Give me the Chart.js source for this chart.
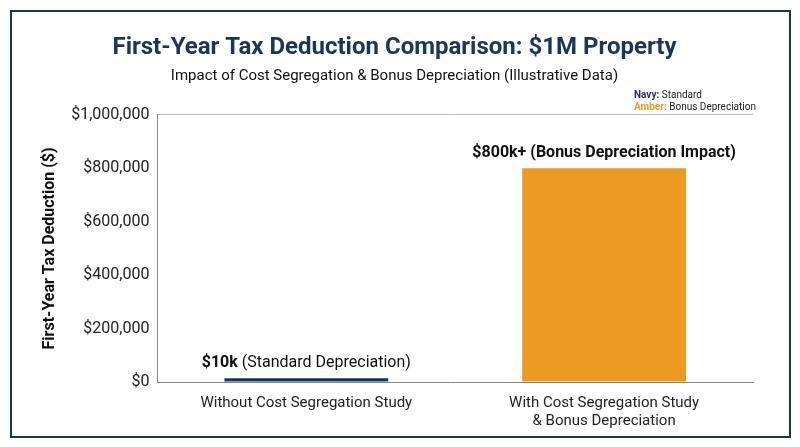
<!DOCTYPE html>
<html>
<head>
<meta charset="utf-8">
<script src="https://cdn.jsdelivr.net/npm/chart.js@4"></script>
<style>
  html, body { margin: 0; padding: 0; background: #fff; }
  #frame { position: absolute; left: 10px; top: 10px; width: 777px; height: 424px; border: 2px solid #1b365d; box-sizing: content-box; }
  canvas { display: block; }
</style>
</head>
<body>
<div id="frame"><canvas id="chart" width="777" height="424"></canvas></div>
<script>
const categories = [["Without Cost Segregation Study"], ["With Cost Segregation Study", "& Bonus Depreciation"]];
const deductions = [14000, 800000];
const barColors = ["#14335c", "#ec9a22"];
const labelBold = ["$10k", "$800k+ (Bonus Depreciation Impact)"];
const labelRest = [" (Standard Depreciation)", ""];

const F = "Roboto, 'Liberation Sans', sans-serif";

const topLabels = {
  id: 'topLabels',
  afterDatasetsDraw(chart) {
    const ctx = chart.ctx;
    const meta = chart.getDatasetMeta(0);
    ctx.save();
    ctx.textBaseline = 'bottom';
    meta.data.forEach((bar, i) => {
      ctx.font = "bold 16px " + F;
      const w1 = ctx.measureText(labelBold[i]).width;
      ctx.font = "16px " + F;
      const w2 = ctx.measureText(labelRest[i]).width;
      let x = bar.x - (w1 + w2) / 2;
      const y = bar.y - 7;
      ctx.fillStyle = '#111';
      ctx.font = "bold 16px " + F;
      ctx.fillText(labelBold[i], x, y);
      ctx.font = "16px " + F;
      ctx.fillText(labelRest[i], x + w1, y);
    });
    ctx.textBaseline = 'alphabetic';
    ctx.font = "bold 10px " + F;
    ctx.fillStyle = '#1b365d';
    ctx.fillText("Navy:", 622, 86);
    let w = ctx.measureText("Navy: ").width;
    ctx.font = "10px " + F; ctx.fillStyle = '#222';
    ctx.fillText("Standard", 622 + w, 86);
    ctx.font = "bold 10px " + F; ctx.fillStyle = '#ec9a22';
    ctx.fillText("Amber:", 622, 98);
    w = ctx.measureText("Amber: ").width;
    ctx.font = "10px " + F; ctx.fillStyle = '#222';
    ctx.fillText("Bonus Depreciation", 622 + w, 98);
    ctx.restore();
  }
};

new Chart(document.getElementById('chart'), {
  type: 'bar',
  data: {
    labels: categories,
    datasets: [{
      data: deductions,
      backgroundColor: barColors,
      barPercentage: 0.55,
      categoryPercentage: 1
    }]
  },
  options: {
    responsive: false,
    animation: false,
    layout: { padding: { left: 24, right: 36, top: 0, bottom: 2 } },
    plugins: {
      legend: { display: false },
      tooltip: { enabled: false },
      title: {
        display: true, text: 'First-Year Tax Deduction Comparison: $1M Property',
        color: '#1b365d', font: { family: F, size: 24, weight: 'bold' },
        padding: { top: 22, bottom: 4 }
      },
      subtitle: {
        display: true, text: 'Impact of Cost Segregation & Bonus Depreciation (Illustrative Data)',
        color: '#111', font: { family: F, size: 15 },
        padding: { bottom: 30 }
      }
    },
    scales: {
      x: {
        grid: { display: false },
        border: { color: '#888' },
        ticks: { color: '#222', font: { family: F, size: 15 }, padding: 4 }
      },
      y: {
        min: 0, max: 1000000,
        ticks: {
          stepSize: 200000, color: '#222', font: { family: F, size: 16 }, padding: 8,
          callback: v => '$' + v.toLocaleString('en-US')
        },
        grid: { drawTicks: false, color: c => c.tick.value === 1000000 ? '#bbb' : 'rgba(0,0,0,0)' },
        border: { color: '#888' },
        title: { display: true, text: 'First-Year Tax Deduction ($)', color: '#111', font: { family: F, size: 16, weight: 'bold' } }
      }
    }
  },
  plugins: [topLabels]
});
</script>
</body>
</html>
